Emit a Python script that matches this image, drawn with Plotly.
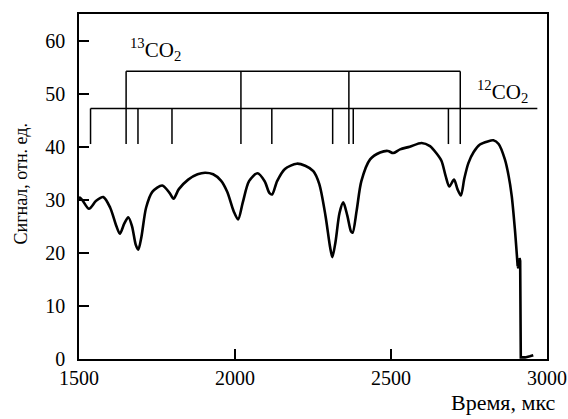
import plotly.graph_objects as go

# ---- data ----
time_us = [1500, 1510, 1532, 1555, 1578, 1600, 1620, 1631, 1645, 1658, 1670, 1682, 1690, 1700,
           1715, 1735, 1767, 1790, 1803, 1820, 1850, 1880, 1904, 1930, 1955, 1975, 1996, 2010,
           2025, 2045, 2072, 2095, 2110, 2119, 2135, 2160, 2198, 2225, 2251, 2270, 2290, 2305,
           2312, 2322, 2335, 2347, 2360, 2372, 2377, 2390, 2405, 2433, 2465, 2490, 2507, 2529,
           2560, 2598, 2625, 2645, 2662, 2675, 2687, 2702, 2713, 2724, 2735, 2748, 2765, 2785,
           2810, 2828, 2845, 2865, 2877, 2887, 2897, 2906]
signal = [30.5, 30.0, 28.3, 29.8, 30.5, 28.5, 25.0, 23.6, 25.5, 26.7, 25.0, 21.5, 20.6, 23.0,
          28.5, 31.5, 32.7, 31.3, 30.2, 32.0, 33.8, 34.8, 35.1, 34.8, 33.6, 31.5, 27.8, 26.3,
          29.5, 33.5, 35.0, 33.5, 31.3, 31.0, 33.5, 35.8, 36.8, 36.4, 35.4, 33.0, 27.0, 21.0,
          19.2, 22.0, 27.5, 29.5, 27.0, 24.0, 23.8, 28.0, 33.5, 37.6, 38.9, 39.2, 38.8, 39.5,
          40.0, 40.7, 40.1, 38.8, 37.3, 34.5, 32.5, 33.8, 32.0, 30.8, 34.0, 36.9, 39.0, 40.4,
          41.0, 41.2, 40.5, 37.6, 34.5, 30.7, 24.5, 17.5]
# tail after the laser pulse (sharp drop)
tail_time = [2906, 2909, 2912, 2914, 2916, 2930, 2945, 2956]
tail_signal = [17.5, 17.1, 19.0, 18.5, 0.3, 0.3, 0.5, 0.7]

# line assignment brackets
bracket_low_level = 47.2
bracket_high_level = 54.2
bracket_bottom = 40.5
low_line_start = 1537
low_line_end = 2969
low_ticks = [1537, 1689, 1798, 2118, 2313, 2379, 2684]
high_ticks = [1651, 2019, 2365, 2722]

label_13 = "<sup>13</sup>CO<sub>2</sub>"
label_13_pos = (1744, 58.3)
label_12 = "<sup>12</sup>CO<sub>2</sub>"
label_12_pos = (2856, 50.4)

x_ticks = [1500, 2000, 2500, 3000]
y_ticks = [0, 10, 20, 30, 40, 50, 60]

FONT = "Liberation Serif, Times New Roman, serif"

# build bracket polyline
bx, by = [], []
bx += [low_line_start, low_line_end, None]
by += [bracket_low_level, bracket_low_level, None]
for t in low_ticks:
    bx += [t, t, None]
    by += [bracket_low_level, bracket_bottom, None]
bx += [high_ticks[0], high_ticks[-1], None]
by += [bracket_high_level, bracket_high_level, None]
for t in high_ticks:
    bx += [t, t, None]
    by += [bracket_high_level, bracket_bottom, None]

fig = go.Figure()
fig.add_trace(go.Scatter(x=time_us, y=signal, mode="lines",
                         line=dict(color="black", width=2.6, shape="spline", smoothing=0.8),
                         showlegend=False, hoverinfo="skip"))
fig.add_trace(go.Scatter(x=tail_time, y=tail_signal, mode="lines",
                         line=dict(color="black", width=2.6),
                         showlegend=False, hoverinfo="skip"))
fig.add_trace(go.Scatter(x=bx, y=by, mode="lines",
                         line=dict(color="black", width=1.5),
                         showlegend=False, hoverinfo="skip"))

fig.add_annotation(x=label_13_pos[0], y=label_13_pos[1], text=label_13, showarrow=False,
                   xref="x", yref="y", font=dict(family=FONT, size=21, color="black"))
fig.add_annotation(x=label_12_pos[0], y=label_12_pos[1], text=label_12, showarrow=False,
                   xref="x", yref="y", font=dict(family=FONT, size=21, color="black"))

fig.add_annotation(x=1.0, y=0, xref="paper", yref="paper", xanchor="right", yanchor="middle",
                   yshift=-43, xshift=11, text="Время, мкс", showarrow=False,
                   font=dict(family=FONT, size=22, color="black"))
fig.add_annotation(x=0, y=0.5, xref="paper", yref="paper", xanchor="center", yanchor="middle",
                   xshift=-59, yshift=2, text="Сигнал, отн. ед.", textangle=-90, showarrow=False,
                   font=dict(family=FONT, size=18, color="black"))

axis_common = dict(showline=True, linecolor="black", linewidth=1.5, mirror=True,
                   ticks="inside", tickcolor="black", tickwidth=1.5, ticklen=10,
                   showgrid=False, zeroline=False,
                   tickfont=dict(family=FONT, size=20, color="black"))

fig.update_xaxes(range=[1500, 3000], tickvals=x_ticks, ticktext=[str(v) for v in x_ticks],
                 **axis_common)
fig.update_yaxes(range=[0, 65], tickvals=y_ticks, ticktext=[str(v) for v in y_ticks],
                 ticklabelstandoff=8, **axis_common)

fig.update_layout(width=568, height=419,
                  margin=dict(l=79, r=21, t=14, b=60, autoexpand=False),
                  paper_bgcolor="white", plot_bgcolor="white",
                  font=dict(family=FONT, color="black"))

fig.write_html("out.html", config={"displayModeBar": False},
               post_script="document.body.style.margin='0px';")
